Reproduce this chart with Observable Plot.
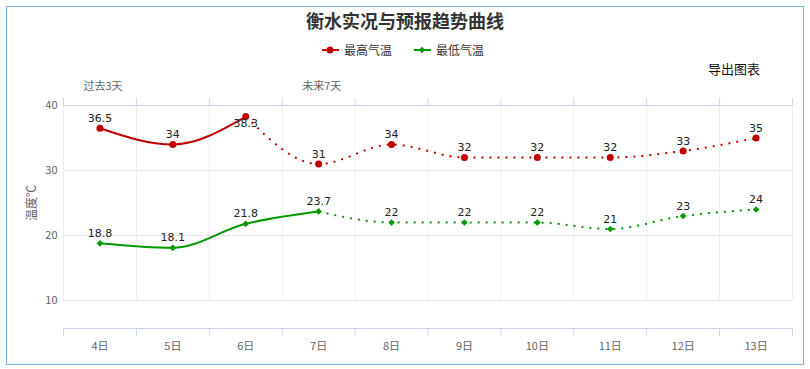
<!DOCTYPE html>
<html><head><meta charset="utf-8">
<script src="https://cdn.jsdelivr.net/npm/d3@7"></script>
<script src="https://cdn.jsdelivr.net/npm/@observablehq/plot@0.6"></script>
<style>
body{margin:0;background:#fff;font-family:"Noto Sans CJK SC","Noto Sans",sans-serif;}
#wrap{position:relative;width:810px;height:369px;overflow:hidden;background:#fff;}
#chart{position:absolute;left:0;top:0;}
.ov{position:absolute;white-space:nowrap;}
#title{left:0;width:810px;top:7px;text-align:center;font-size:18px;line-height:26px;font-weight:bold;color:#333;}
#legend{left:322px;top:41px;height:18px;display:flex;align-items:center;font-size:12px;color:#333;line-height:18px;}
#legend .item{display:flex;align-items:center;}
#legend svg{margin-right:5px;}
#export{left:708px;top:60px;font-size:13px;line-height:18px;color:#111;}
#ylabel{left:30px;top:203px;font-size:12px;color:#666;transform:translate(-50%,-50%) rotate(-90deg);}
#frame{position:absolute;left:6px;top:6px;width:798px;height:359px;box-sizing:border-box;border:1px solid #7cb5ec;}
</style></head><body>
<div id="wrap">
 <div id="chart"></div>
 <div class="ov" id="title">衡水实况与预报趋势曲线</div>
 <div class="ov" id="legend"></div>
 <div class="ov" id="export">导出图表</div>
 <div class="ov" id="ylabel">温度℃</div>
 <div id="frame"></div>
</div>
<script>
const days = ["4日","5日","6日","7日","8日","9日","10日","11日","12日","13日"];
const highVals = [36.5, 34, 38.3, 31, 34, 32, 32, 32, 33, 35];
const lowVals = [18.8, 18.1, 21.8, 23.7, 22, 22, 22, 21, 23, 24];
const highObservedCount = 3;
const lowObservedCount = 4;
const seriesNames = ["最高气温", "最低气温"];
const seriesColors = ["#c00000", "#009900"];
const periodLabels = ["过去3天", "未来7天"];
const periodStarts = [0, 3];
const yTicks = [10, 20, 30, 40];

const high = highVals.map((v, i) => ({i, v}));
const low = lowVals.map((v, i) => ({i, v}));
const boundaries = d3.range(days.length + 1).map(k => k - 0.5);
const yMin = d3.min(yTicks), yMax = d3.max(yTicks);

const labelFont = "DejaVu Sans, Verdana, sans-serif";
const dotted = {strokeWidth: 2, strokeDasharray: "2,6", strokeLinecap: "butt", curve: "monotone-x"};

const chart = Plot.plot({
  width: 810, height: 369,
  marginLeft: 63, marginRight: 18, marginTop: 105, marginBottom: 69,
  x: {type: "linear", domain: [-0.5, days.length - 0.5], label: null},
  y: {domain: [yMin, yMax], label: null},
  style: {fontFamily: "Noto Sans CJK SC, Noto Sans, sans-serif", color: "#666", background: "transparent"},
  marks: [
    Plot.gridX({ticks: boundaries, stroke: "#eeeeee", strokeOpacity: 1}),
    Plot.gridY({ticks: yTicks.filter(t => t < yMax), stroke: "#e6e6e6", strokeOpacity: 1}),
    Plot.ruleY([yMax], {stroke: "#ccd6eb"}),
    Plot.axisX({anchor: "top", ticks: boundaries, tickSize: 8, tickFormat: () => "", stroke: "#ccd6eb", strokeOpacity: 1, label: null}),
    Plot.axisX({anchor: "bottom", ticks: boundaries, tickSize: 8, tickFormat: () => "", stroke: "#ccd6eb", strokeOpacity: 1, dy: 28, label: null}),
    Plot.ruleY([yMin], {stroke: "#ccd6eb", dy: 28}),
    Plot.axisX({anchor: "bottom", ticks: d3.range(days.length), tickSize: 0, tickFormat: i => days[i], dy: 33, fontSize: 11, fill: "#666", label: null}),
    Plot.axisY({ticks: yTicks, tickSize: 0, tickPadding: 6, fontSize: 11, fill: "#666", label: null}),
    Plot.text(periodLabels, {x: (d, k) => periodStarts[k] - 0.5, frameAnchor: "top", dy: -23, dx: 20, textAnchor: "start", fill: "#666", fontSize: 11}),
    // high
    Plot.line(high.slice(0, highObservedCount), {x: "i", y: "v", stroke: seriesColors[0], strokeWidth: 2, curve: "monotone-x"}),
    Plot.line(high.slice(highObservedCount - 1), {x: "i", y: "v", stroke: seriesColors[0], ...dotted}),
    Plot.dot(high, {x: "i", y: "v", r: 3.5, fill: seriesColors[0], stroke: null}),
    // low
    Plot.line(low.slice(0, lowObservedCount), {x: "i", y: "v", stroke: seriesColors[1], strokeWidth: 2, curve: "monotone-x"}),
    Plot.line(low.slice(lowObservedCount - 1), {x: "i", y: "v", stroke: seriesColors[1], ...dotted}),
    Plot.dot(low, {x: "i", y: "v", r: 3, symbol: "diamond2", fill: seriesColors[1], stroke: null}),
    // data labels
    Plot.text(high.filter(d => d.v < yMax - 2), {x: "i", y: "v", text: d => String(d.v), dy: -10, fontSize: 11, fill: "#222", fontFamily: labelFont}),
    Plot.text(high.filter(d => d.v >= yMax - 2), {x: "i", y: "v", text: d => String(d.v), dy: 7, fontSize: 11, fill: "#222", fontFamily: labelFont}),
    Plot.text(low, {x: "i", y: "v", text: d => String(d.v), dy: -10, fontSize: 11, fill: "#222", fontFamily: labelFont})
  ]
});
document.getElementById("chart").appendChild(chart);

// legend
const legend = document.getElementById("legend");
seriesNames.forEach((name, k) => {
  const item = document.createElement("div");
  item.className = "item";
  if (k > 0) item.style.marginLeft = "22px";
  const marker = k === 0
    ? `<circle cx="8" cy="5" r="3.5" fill="${seriesColors[k]}"/>`
    : `<path d="M8 1.8 L11.2 5 L8 8.2 L4.8 5 Z" fill="${seriesColors[k]}"/>`;
  item.innerHTML = `<svg width="17" height="10"><line x1="0" x2="17" y1="5" y2="5" stroke="${seriesColors[k]}" stroke-width="2"/>${marker}</svg><span>${name}</span>`;
  legend.appendChild(item);
});
</script>
</body></html>
